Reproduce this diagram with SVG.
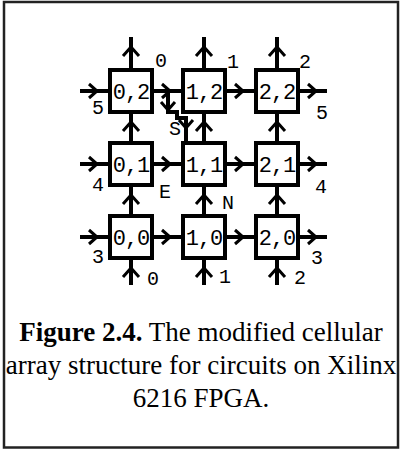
<svg xmlns="http://www.w3.org/2000/svg" width="401" height="450" viewBox="0 0 401 450">
<style>
.box{fill:#fff;stroke:#000;stroke-width:4}
.ln{fill:none;stroke:#000;stroke-width:4}
.ch{fill:none;stroke:#000;stroke-width:3}
.bl{font-family:"Liberation Mono",monospace;font-size:22px;letter-spacing:-1px;fill:#000;text-anchor:middle}
.lb{font-family:"Liberation Mono",monospace;font-size:20px;fill:#000}
.cap{font-family:"Liberation Serif","Times New Roman",serif;font-size:27px;fill:#000;text-anchor:middle}
</style>
<rect x="4" y="2" width="394" height="445.5" fill="#fff" stroke="#222" stroke-width="2.5"/>
<g id="connectors">
<path class="ln" d="M80 91H327M80 164H327M80 237H327M131 37V285M204 37V285M277 37V285"/>
<path class="ch" d="M89 84L97 91L89 98M162 84L170 91L162 98M235 84L243 91L235 98M308 84L316 91L308 98
M89 157L97 164L89 171M162 157L170 164L162 171M235 157L243 164L235 171M308 157L316 164L308 171
M89 230L97 237L89 244M162 230L170 237L162 244M235 230L243 237L235 244M308 230L316 237L308 244"/>
<path class="ch" d="M123 56L131 47L139 56M196 56L204 47L212 56M269 56L277 47L285 56
M123 131L131 122L139 131M196 131L204 122L212 131M269 131L277 122L285 131
M123 204L131 195L139 204M196 204L204 195L212 204M269 204L277 195L285 204
M123 277L131 268L139 277M196 277L204 268L212 277M269 277L277 268L285 277"/>
<path class="ln" stroke-width="3.5" d="M168 91V112H177V118H186V141"/>
<path class="ch" d="M161 102L168 110L175 102M179 120L186 128L193 120"/>
</g>
<g id="n02"><rect class="box" x="110" y="70" width="42" height="42"/><text class="bl" x="131" y="99">0,2</text></g>
<g id="n12"><rect class="box" x="183" y="70" width="42" height="42"/><text class="bl" x="204" y="99">1,2</text></g>
<g id="n22"><rect class="box" x="256" y="70" width="42" height="42"/><text class="bl" x="277" y="99">2,2</text></g>
<g id="n01"><rect class="box" x="110" y="143" width="42" height="42"/><text class="bl" x="131" y="172">0,1</text></g>
<g id="n11"><rect class="box" x="183" y="143" width="42" height="42"/><text class="bl" x="204" y="172">1,1</text></g>
<g id="n21"><rect class="box" x="256" y="143" width="42" height="42"/><text class="bl" x="277" y="172">2,1</text></g>
<g id="n00"><rect class="box" x="110" y="216" width="42" height="42"/><text class="bl" x="131" y="245">0,0</text></g>
<g id="n10"><rect class="box" x="183" y="216" width="42" height="42"/><text class="bl" x="204" y="245">1,0</text></g>
<g id="n20"><rect class="box" x="256" y="216" width="42" height="42"/><text class="bl" x="277" y="245">2,0</text></g>
<g id="labels">
<text class="lb" x="155" y="67">0</text>
<text class="lb" x="227" y="68">1</text>
<text class="lb" x="299" y="68">2</text>
<text class="lb" x="92" y="114">5</text>
<text class="lb" x="316" y="119">5</text>
<text class="lb" x="169" y="135">S</text>
<text class="lb" x="92" y="191">4</text>
<text class="lb" x="159" y="198">E</text>
<text class="lb" x="315" y="193">4</text>
<text class="lb" x="222" y="209">N</text>
<text class="lb" x="92" y="263">3</text>
<text class="lb" x="311" y="264">3</text>
<text class="lb" x="147" y="285">0</text>
<text class="lb" x="219" y="283">1</text>
<text class="lb" x="294" y="284">2</text>
</g>
<g id="caption">
<text class="cap" x="201" y="341"><tspan font-weight="bold">Figure 2.4.</tspan> The modified cellular</text>
<text class="cap" x="201" y="374">array structure for circuits on Xilinx</text>
<text class="cap" x="201" y="407">6216 FPGA.</text>
</g>
</svg>
